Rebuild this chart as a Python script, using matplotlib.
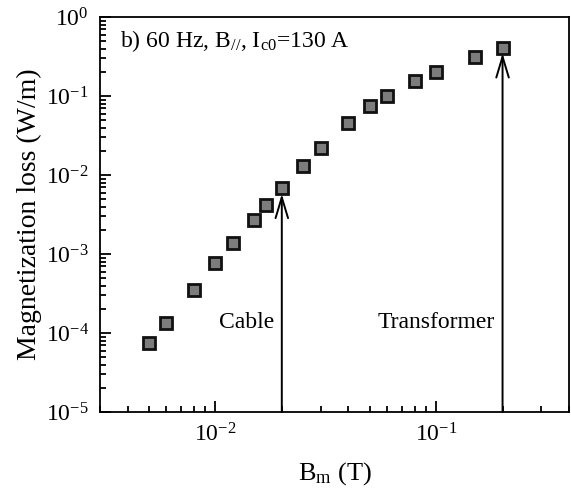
import numpy as np
import matplotlib
matplotlib.use("Agg")
import matplotlib.pyplot as plt
from matplotlib.ticker import LogLocator, NullFormatter

plt.rcParams['font.family'] = ['Liberation Serif', 'DejaVu Serif']
plt.rcParams['mathtext.fontset'] = 'custom'
plt.rcParams['mathtext.rm'] = 'Liberation Serif'
plt.rcParams['mathtext.it'] = 'Liberation Serif:italic'

# field amplitude (T) and measured loss (W/m)
b_m = [0.005, 0.006, 0.008, 0.01, 0.012, 0.015, 0.017, 0.02, 0.025, 0.03,
       0.04, 0.05, 0.06, 0.08, 0.1, 0.15, 0.2]
loss = [7.5e-5, 1.35e-4, 3.5e-4, 7.8e-4, 1.4e-3, 2.7e-3, 4.2e-3, 6.8e-3,
        1.3e-2, 2.2e-2, 4.6e-2, 7.5e-2, 0.1, 0.155, 0.2, 0.31, 0.41]

# marked operating points
arrow_x = [0.02, 0.2]
arrow_y = [6.8e-3, 0.41]
arrow_labels = ["Cable", "Transformer"]
label_x = [0.0138, 0.1]
label_y = 1.38e-4

fig = plt.figure(figsize=(5.71, 4.9), dpi=100)
ax = fig.add_axes([0.175, 0.159, 0.8215, 0.806])

ax.plot(b_m, loss, ls='none', marker='s', ms=8, mfc='#7c7c7c',
        mec='#111111', mew=2.0)

for x, y in zip(arrow_x, arrow_y):
    ax.annotate("", xy=(x, y), xytext=(x, 1e-5),
                arrowprops=dict(arrowstyle='->, head_length=1.0, head_width=0.3',
                                lw=1.4, color='black', mutation_scale=15,
                                shrinkA=0, shrinkB=4))

for x, t in zip(label_x, arrow_labels):
    ax.text(x, label_y, t, fontsize=17, ha='center', va='center')

ax.text(0.042, 0.94, "b) 60 Hz, B$_{//}$, I$_{\\mathrm{c0}}$=130 A",
        transform=ax.transAxes, fontsize=17, ha='left', va='center')

ax.set_xscale('log')
ax.set_yscale('log')
ax.set_xlim(0.003, 0.4)
ax.set_ylim(1e-5, 1)

ax.yaxis.set_major_locator(LogLocator(base=10, numticks=10))
ax.yaxis.set_minor_locator(LogLocator(base=10, subs=np.arange(2, 10), numticks=20))
ax.xaxis.set_minor_locator(LogLocator(base=10, subs=np.arange(2, 10), numticks=20))
ax.xaxis.set_minor_formatter(NullFormatter())
ax.yaxis.set_minor_formatter(NullFormatter())

ax.tick_params(which='both', direction='in', top=False, right=False, width=1.3)
ax.tick_params(which='major', length=8, labelsize=17, pad=8)
ax.tick_params(which='minor', length=4)
for s in ax.spines.values():
    s.set_linewidth(1.3)

ax.set_xlabel("B$_\\mathrm{m}$ (T)", fontsize=19, labelpad=10)
ax.set_ylabel("Magnetization loss (W/m)", fontsize=20, labelpad=3)

fig.savefig("out.png", dpi=100)
